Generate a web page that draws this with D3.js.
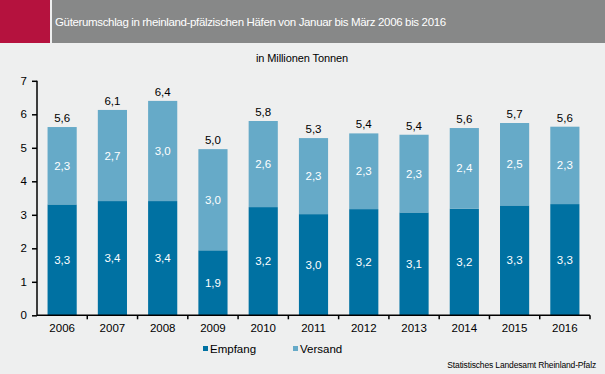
<!DOCTYPE html>
<meta charset="utf-8">
<html lang="de">
<style>
body { margin: 0; background: #eeefef; }
svg { display: block; font-family: "Liberation Sans", Arial, sans-serif; }
.axis path, .axis line { stroke: #000; stroke-width: 1.5px; }
.axis text { fill: #000; font-size: 11.5px; }
</style>
<body>
<div id="chart"></div>
<script src="https://cdn.jsdelivr.net/npm/d3@7"></script>
<script>
// values in Mio. t
var years = ["2006","2007","2008","2009","2010","2011","2012","2013","2014","2015","2016"];
var empfang = [3.31, 3.41, 3.41, 1.94, 3.23, 3.02, 3.17, 3.07, 3.18, 3.28, 3.32];
var versand = [2.31, 2.72, 2.99, 3.02, 2.57, 2.27, 2.26, 2.32, 2.41, 2.46, 2.31];
var yTicks = [0, 1, 2, 3, 4, 5, 6, 7];
var seriesNames = ["Empfang", "Versand"];

var width = 605, height = 374;
var colors = {Empfang: "#0071a2", Versand: "#66aac8"};
var fmt = function(v) { return d3.format(".1f")(v).replace(".", ","); };

var svg = d3.select("#chart").append("svg")
    .attr("width", width)
    .attr("height", height);

svg.append("rect").attr("width", width).attr("height", height).attr("fill", "#eeefef");

// header band
svg.append("rect").attr("x", 0).attr("y", 0).attr("width", 50).attr("height", 43).attr("fill", "#b5123e");
svg.append("rect").attr("x", 52).attr("y", 0).attr("width", width - 52).attr("height", 43).attr("fill", "#878888");
svg.append("text")
    .attr("x", 55).attr("y", 26)
    .attr("fill", "#fff")
    .style("font-size", "11.5px")
    .style("letter-spacing", "-0.35px")
    .text("Güterumschlag in rheinland-pfälzischen Häfen von Januar bis März 2006 bis 2016");

svg.append("text")
    .attr("x", 302).attr("y", 62)
    .attr("text-anchor", "middle")
    .style("font-size", "11px")
    .style("letter-spacing", "-0.1px")
    .text("in Millionen Tonnen");

var x = d3.scaleBand()
    .domain(years)
    .range([37, 590])
    .paddingInner(0.42)
    .paddingOuter(0.21);

var y = d3.scaleLinear()
    .domain([0, 7])
    .range([315.3, 80.8]);

var data = years.map(function(yr, i) {
  return {year: yr, Empfang: empfang[i], Versand: versand[i]};
});
var stacked = d3.stack().keys(seriesNames)(data);

// bars
var layers = svg.selectAll(".layer")
    .data(stacked)
  .enter().append("g")
    .attr("class", "layer")
    .attr("fill", function(d) { return colors[d.key]; });

layers.selectAll("rect")
    .data(function(d) { return d; })
  .enter().append("rect")
    .attr("x", function(d) { return x(d.data.year); })
    .attr("y", function(d) { return y(d[1]); })
    .attr("width", x.bandwidth())
    .attr("height", function(d) { return y(d[0]) - y(d[1]); });

// segment labels
layers.selectAll("text")
    .data(function(d) { return d; })
  .enter().append("text")
    .attr("x", function(d) { return x(d.data.year) + x.bandwidth() / 2; })
    .attr("y", function(d) { return (y(d[0]) + y(d[1])) / 2 + 4; })
    .attr("text-anchor", "middle")
    .attr("fill", "#fff")
    .style("font-size", "11.5px")
    .text(function(d) { return fmt(d[1] - d[0]); });

// totals
svg.selectAll(".total")
    .data(data)
  .enter().append("text")
    .attr("class", "total")
    .attr("x", function(d) { return x(d.year) + x.bandwidth() / 2; })
    .attr("y", function(d) { return y(d.Empfang + d.Versand) - 5; })
    .attr("text-anchor", "middle")
    .style("font-size", "11.5px")
    .text(function(d) { return fmt(d.Empfang + d.Versand); });

// y axis
var yAxis = svg.append("g")
    .attr("class", "axis")
    .attr("transform", "translate(37,0)")
    .call(d3.axisLeft(y).tickValues(yTicks).tickSize(5).tickPadding(5).tickFormat(d3.format("d")));
yAxis.select(".domain").attr("d", "M0," + y(7) + "V" + y(0));

// x axis: ticks between categories, labels centred
var xAxis = svg.append("g")
    .attr("class", "axis")
    .attr("transform", "translate(0," + y(0) + ")")
    .call(d3.axisBottom(x).tickSize(0).tickPadding(9));
xAxis.select(".domain").attr("d", "M37,0H590");
var step = x.step();
xAxis.selectAll(".sep")
    .data(d3.range(1, years.length + 1))
  .enter().append("line")
    .attr("class", "sep")
    .attr("x1", function(i) { return 37 + i * step; })
    .attr("x2", function(i) { return 37 + i * step; })
    .attr("y1", 0).attr("y2", 4);

// legend
var legend = svg.selectAll(".legend")
    .data(seriesNames)
  .enter().append("g")
    .attr("class", "legend")
    .attr("transform", function(d, i) { return "translate(" + (203 + i * 90) + ",346)"; });
legend.append("rect").attr("width", 5).attr("height", 5).attr("fill", function(d) { return colors[d]; });
legend.append("text")
    .attr("x", 7).attr("y", 6.5)
    .style("font-size", "11.5px")
    .text(function(d) { return d; });

svg.append("text")
    .attr("x", 596).attr("y", 368)
    .attr("text-anchor", "end")
    .style("font-size", "8.5px")
    .style("letter-spacing", "-0.15px")
    .text("Statistisches Landesamt Rheinland-Pfalz");
</script>
</body>
</html>
